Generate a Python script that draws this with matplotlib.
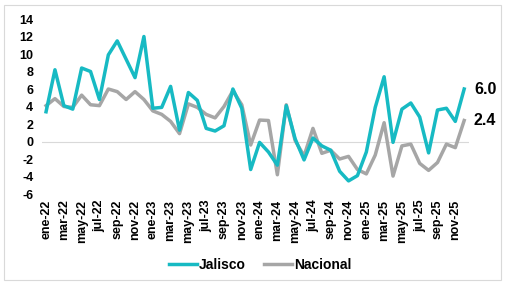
import matplotlib
matplotlib.use("Agg")
import matplotlib.pyplot as plt
from matplotlib.patches import Rectangle

plt.rcParams['font.family'] = ['Liberation Sans', 'DejaVu Sans']

months = ["ene", "feb", "mar", "abr", "may", "jun", "jul", "ago", "sep", "oct", "nov", "dic"]
years = ["22", "23", "24", "25"]
labels = [f"{m}-{y}" for y in years for m in months]

jalisco = [3.4, 8.2, 4.1, 3.7, 8.4, 8.0, 4.8, 9.9, 11.5, 9.4, 7.3, 12.0,
           3.8, 3.9, 6.3, 1.3, 5.6, 4.7, 1.5, 1.2, 1.8, 6.0, 3.8, -3.2,
           -0.1, -1.2, -2.7, 4.1, 0.3, -2.1, 0.4, -0.5, -1.0, -3.4, -4.5, -3.9,
           -1.2, 3.9, 7.4, -0.1, 3.7, 4.4, 2.8, -1.3, 3.6, 3.8, 2.3, 6.0]
nacional = [4.1, 4.9, 4.0, 3.9, 5.3, 4.2, 4.1, 6.0, 5.7, 4.8, 5.7, 4.8,
            3.5, 3.1, 2.3, 0.9, 4.3, 3.9, 3.1, 2.7, 4.0, 5.8, 4.2, -0.4,
            2.45, 2.4, -3.8, 4.2, 0.1, -1.65, 1.5, -1.35, -1.0, -2.0, -1.7, -3.2,
            -3.7, -1.55, 2.15, -3.95, -0.5, -0.3, -2.5, -3.3, -2.4, -0.3, -0.7, 2.4]

teal = "#17BAC3"
gray = "#A6A6A6"

fig = plt.figure(figsize=(5.05, 2.82), dpi=100)
fig.patches.append(Rectangle((0.008, 0.008), 0.984, 0.974, transform=fig.transFigure,
                             fill=False, edgecolor="#D9D9D9", linewidth=0.8))
ax = fig.add_axes([0.0824, 0.312, 0.8456, 0.6206])

x = list(range(len(labels)))
ax.axhline(0, color="#D9D9D9", linewidth=0.8, zorder=1)
ax.plot(x, jalisco, color=teal, linewidth=2.5, label="Jalisco", zorder=3,
        solid_joinstyle="round")
ax.plot(x, nacional, color=gray, linewidth=2.5, label="Nacional", zorder=2,
        solid_joinstyle="round")

ax.set_xlim(-0.5, len(labels) - 0.5)
ax.set_ylim(-6, 14)
ax.set_yticks(range(-6, 15, 2))
ax.set_yticklabels([str(v) for v in range(-6, 15, 2)], fontsize=9, fontweight="bold")
ax.set_xticks(x[::2])
ax.set_xticklabels(labels[::2], rotation=90, fontsize=9, fontweight="bold")
ax.tick_params(axis="both", length=0)
ax.tick_params(axis="y", pad=6)
ax.tick_params(axis="x", pad=4)
for s in ax.spines.values():
    s.set_visible(False)

ax.annotate(f"{jalisco[-1]:.1f}", xy=(x[-1], jalisco[-1]), xytext=(7, 0),
            textcoords="offset points", va="center", ha="left",
            fontsize=11.5, fontweight="bold")
ax.annotate(f"{nacional[-1]:.1f}", xy=(x[-1], nacional[-1]), xytext=(7, 0),
            textcoords="offset points", va="center", ha="left",
            fontsize=11.5, fontweight="bold")

leg = fig.legend(loc="center", bbox_to_anchor=(0.515, 0.06), ncol=2, frameon=False,
                 prop={"weight": "bold", "size": 10}, handlelength=2.0,
                 handletextpad=0.15, columnspacing=1.3)

fig.savefig("out.png", dpi=100)
